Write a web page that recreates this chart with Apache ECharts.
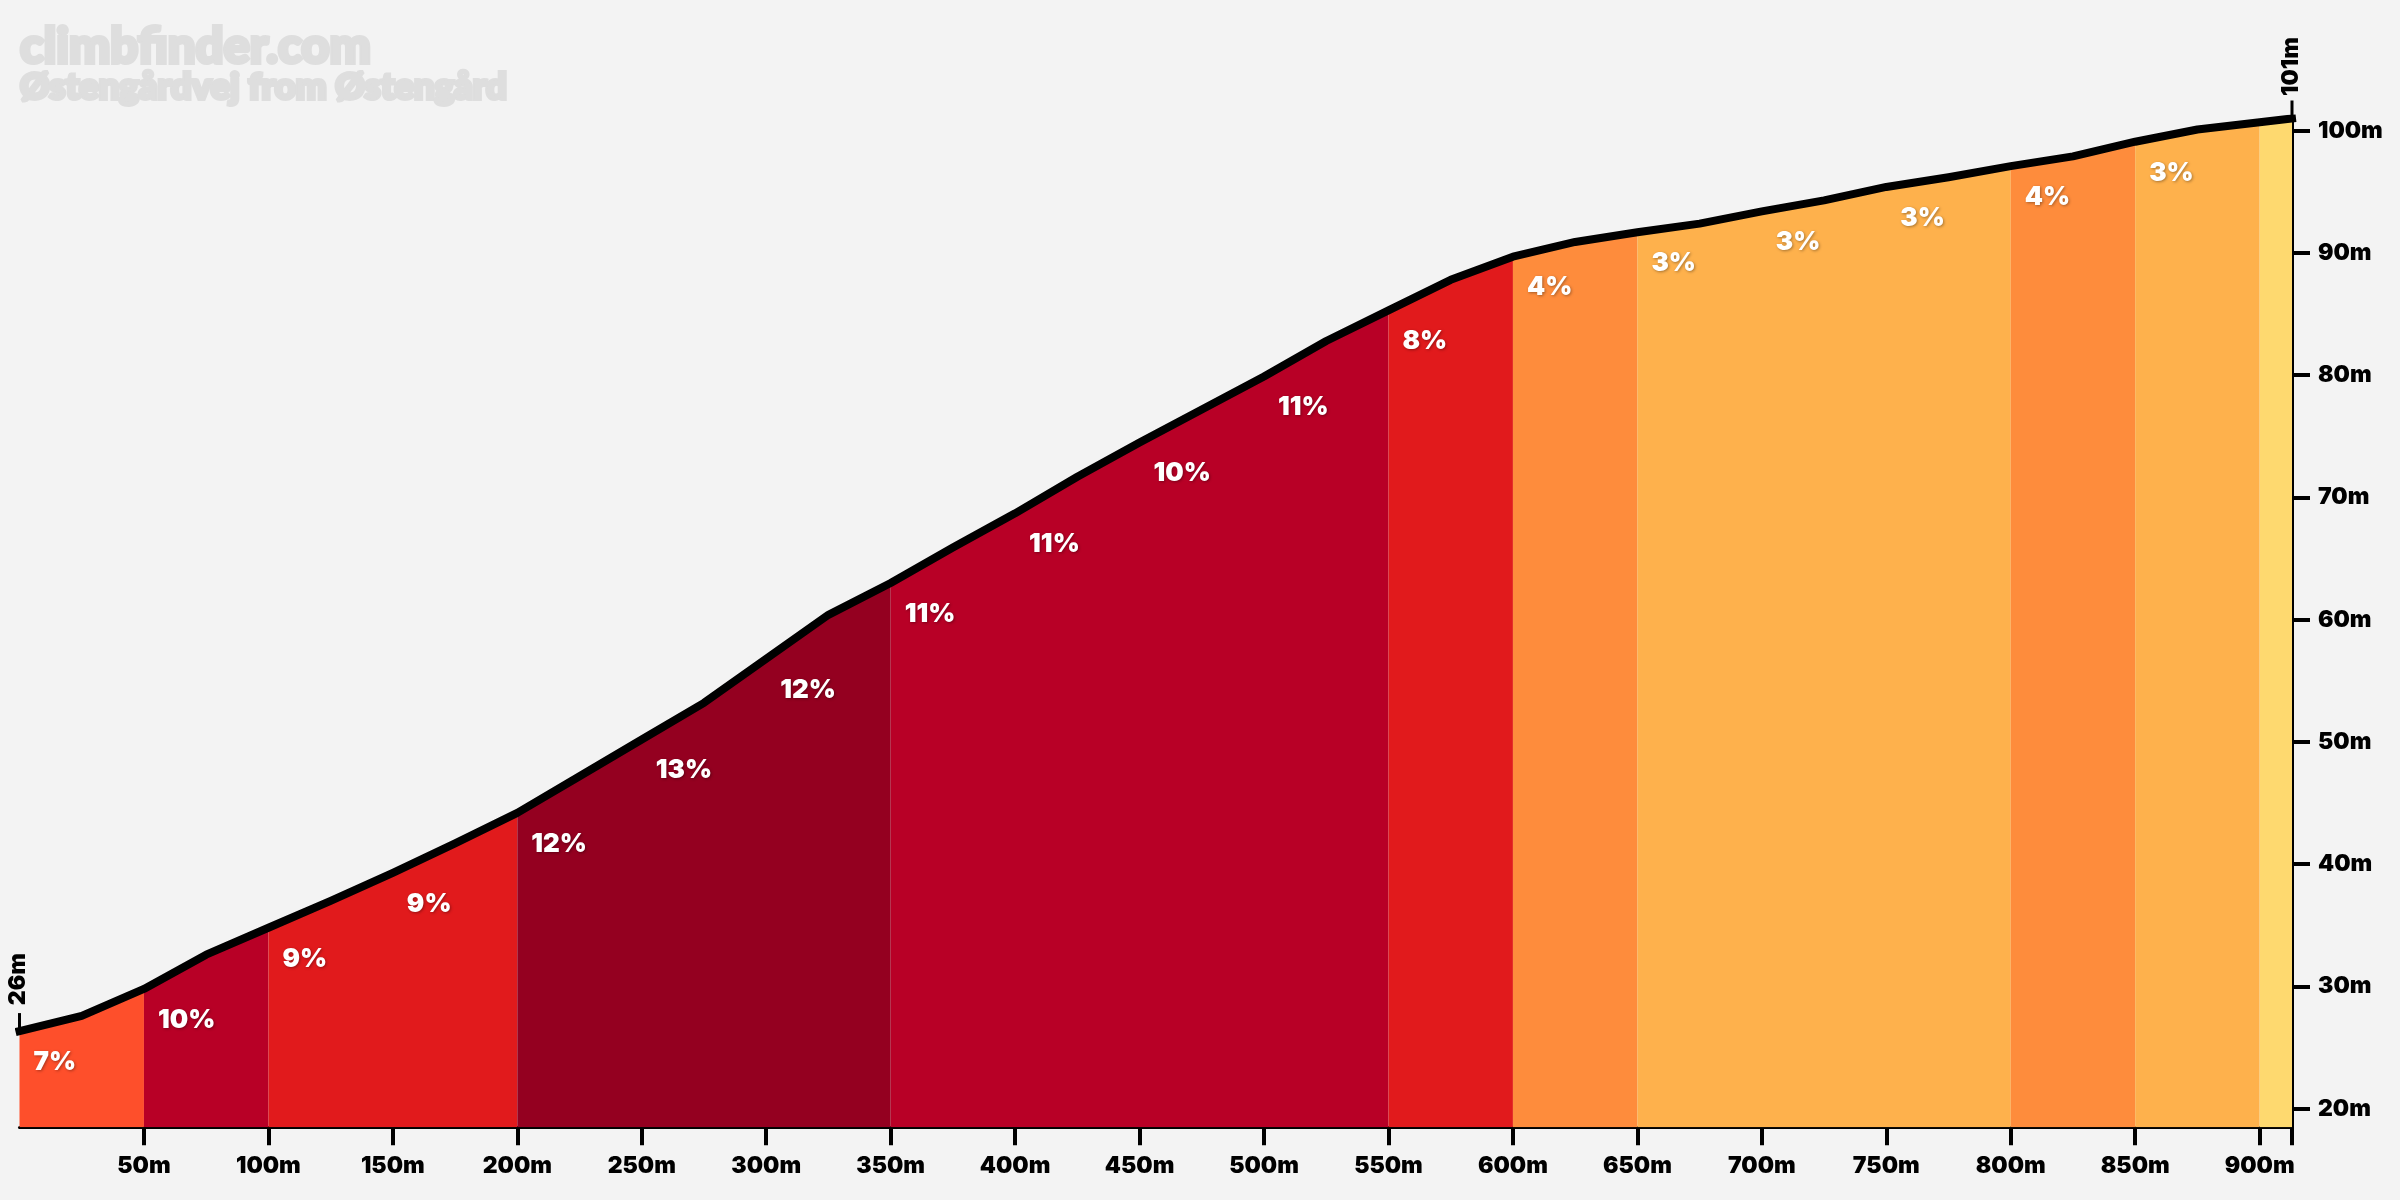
<!DOCTYPE html>
<html>
<head>
<meta charset="utf-8">
<script src="https://cdn.jsdelivr.net/npm/echarts@6/dist/echarts.min.js"></script>
<style>
  html, body { margin: 0; padding: 0; background: #f3f3f3; }
  #main { width: 2400px; height: 1200px; }
</style>
</head>
<body>
<div id="main"></div>
<script>
// height profile, one point every 25m plus the finish
const distances = [0, 25, 50, 75, 100, 125, 150, 175, 200, 225, 250, 275, 300, 325, 350, 375, 400, 425, 450,
  475, 500, 525, 550, 575, 600, 625, 650, 675, 700, 725, 750, 775, 800, 825, 850, 875, 900, 913];
const elevations = [26.35, 27.6, 29.8, 32.6, 34.8, 37.0, 39.3, 41.7, 44.2, 47.2, 50.2, 53.2, 56.8, 60.4, 63.0,
  65.9, 68.7, 71.7, 74.5, 77.2, 79.9, 82.8, 85.3, 87.8, 89.7, 90.9, 91.7, 92.4, 93.4, 94.3, 95.4, 96.2, 97.1,
  97.9, 99.1, 100.1, 100.7, 101];

// one block per 50m
const segmentStarts = [0, 50, 100, 150, 200, 250, 300, 350, 400, 450, 500, 550, 600, 650, 700, 750, 800, 850, 900];
const segmentGrades = [7, 10, 9, 9, 12, 13, 12, 11, 11, 10, 11, 8, 4, 3, 3, 3, 4, 3, 2];

const xTicks = [50, 100, 150, 200, 250, 300, 350, 400, 450, 500, 550, 600, 650, 700, 750, 800, 850, 900, 913];
const xTickLabels = [50, 100, 150, 200, 250, 300, 350, 400, 450, 500, 550, 600, 650, 700, 750, 800, 850, 900];
const yTicks = [20, 30, 40, 50, 60, 70, 80, 90, 100];

const titleText = 'climbfinder.com';
const subtitleText = 'Østengårdvej from Østengård';
const endLabels = ['26m', '101m'];

const font = 'Inter';

function gradeColor(g) {
  if (g >= 12) return '#940020';
  if (g >= 10) return '#b80026';
  if (g >= 8) return '#e11a1c';
  if (g >= 7) return '#fe4f2b';
  if (g >= 4) return '#fe8c3c';
  if (g >= 3) return '#feb14c';
  return '#fed96f';
}

const profile = distances.map((d, i) => [d, elevations[i]]);

// coloured blocks under the line, neighbours of one colour become one area so no seam shows
const blocks = [];
segmentStarts.forEach((start, i) => {
  const end = i + 1 < segmentStarts.length ? segmentStarts[i + 1] : distances[distances.length - 1];
  const color = gradeColor(segmentGrades[i]);
  const last = blocks[blocks.length - 1];
  if (last && last.color === color) {
    last.end = end;
  } else {
    blocks.push({ start, end, color });
  }
});

const blockSeries = blocks.map(b => ({
  type: 'line',
  data: profile.filter(p => p[0] >= b.start && p[0] <= b.end),
  symbol: 'none',
  silent: true,
  z: 2,
  lineStyle: { width: 0 },
  areaStyle: { color: b.color, opacity: 1, origin: 'start' }
}));

// the last block is too short for a label
const gradeLabels = segmentGrades.slice(0, -1).map((g, i) => ({
  value: profile.find(p => p[0] === segmentStarts[i]),
  label: { formatter: g + '%' }
}));

const axisText = { color: '#000', fontFamily: font, fontWeight: 900, fontSize: 23 };

const option = {
  backgroundColor: '#f3f3f3',
  animation: false,
  title: [
    {
      text: titleText, left: 15, top: 18,
      textStyle: { fontFamily: 'Lato', fontWeight: 900, fontSize: 49, color: '#dedede', textBorderColor: '#dedede', textBorderWidth: 4 }
    },
    {
      text: subtitleText, left: 15, top: 64,
      textStyle: { fontFamily: 'Lato', fontWeight: 900, fontSize: 36.5, color: '#dedede', textBorderColor: '#dedede', textBorderWidth: 4 }
    }
  ],
  grid: { left: 19.5, right: 108, top: 118.5, bottom: 72.7 },
  xAxis: {
    type: 'value', min: 0, max: 913,
    splitLine: { show: false },
    axisLine: { lineStyle: { color: '#000', width: 3 } },
    axisTick: { length: 18, lineStyle: { color: '#000', width: 4 }, customValues: xTicks },
    axisLabel: Object.assign({ customValues: xTickLabels, formatter: v => v + 'm', margin: 27 }, axisText)
  },
  yAxis: {
    type: 'value', position: 'right', min: 18.48, max: 101,
    splitLine: { show: false },
    axisLine: { show: true, onZero: false, lineStyle: { color: '#000', width: 3 } },
    axisTick: { show: true, length: 18, lineStyle: { color: '#000', width: 4 }, customValues: yTicks },
    axisLabel: Object.assign({ customValues: yTicks, formatter: v => v + 'm', margin: 26 }, axisText)
  },
  series: blockSeries.concat([
    {
      type: 'line',
      data: profile,
      symbol: 'none',
      silent: true,
      z: 4,
      lineStyle: { color: '#000', width: 8, cap: 'square', join: 'round' }
    },
    {
      type: 'scatter',
      data: gradeLabels,
      symbolSize: 0,
      silent: true,
      z: 5,
      itemStyle: { opacity: 1 },
      label: {
        show: true, position: 'right', distance: 0, offset: [14, 31],
        color: '#fff', fontFamily: font, fontWeight: 900, fontSize: 26,
        textShadowColor: 'rgba(0,0,0,0.35)', textShadowBlur: 3, textShadowOffsetX: 1, textShadowOffsetY: 1
      }
    },
    {
      // little flags on the start and finish heights
      type: 'scatter',
      data: [
        { value: profile[0], label: { formatter: endLabels[0] } },
        { value: profile[profile.length - 1], label: { formatter: endLabels[1] } }
      ],
      symbol: 'rect',
      symbolSize: [3, 18],
      symbolOffset: [0, -9],
      silent: true,
      z: 3,
      itemStyle: { color: '#000', opacity: 1 },
      label: Object.assign({
        show: true, position: 'inside', rotate: 90, align: 'center', verticalAlign: 'middle', offset: [43, -1]
      }, axisText)
    }
  ])
};

const chart = echarts.init(document.getElementById('main'));
chart.setOption(option);
</script>
</body>
</html>
